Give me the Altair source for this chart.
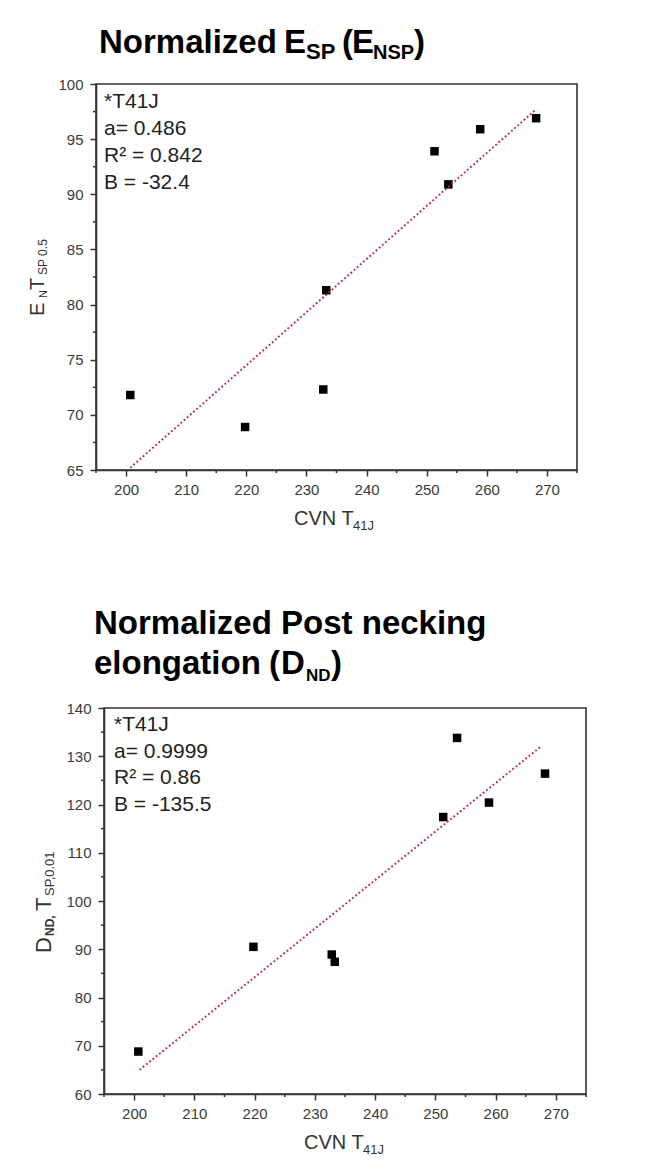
import altair as alt
import pandas as pd

# ---------------- data ----------------
cvn_t41j = [200.7, 219.8, 232.8, 233.3, 251.3, 253.6, 258.9, 268.2]
ensp_t05 = [71.8, 68.9, 72.3, 81.3, 93.9, 90.9, 95.9, 96.9]
dnd_t001 = [68.8, 90.5, 88.9, 87.4, 117.4, 133.8, 120.4, 126.4]

fit_top_x = [200.7, 268.2]
fit_top_y = [65.2, 97.7]
fit_bot_x = [200.9, 267.6]
fit_bot_y = [65.0, 132.1]

x_major = [200, 210, 220, 230, 240, 250, 260, 270]
x_minor = [195, 205, 215, 225, 235, 245, 255, 265, 275]
y_top_major = [65, 70, 75, 80, 85, 90, 95, 100]
y_top_minor = [67.5, 72.5, 77.5, 82.5, 87.5, 92.5, 97.5]
y_bot_major = [60, 70, 80, 90, 100, 110, 120, 130, 140]
y_bot_minor = [65, 75, 85, 95, 105, 115, 125, 135]

annot_top = ["*T41J", "a= 0.486", "R\u00b2 = 0.842", "B = -32.4"]
annot_bot = ["*T41J", "a= 0.9999", "R\u00b2 = 0.86", "B = -135.5"]

FONT = "Liberation Sans"
AX = "#333333"
W_TOP, W_BOT, H = 481, 482, 386


def txt(text, x, y, size, weight="normal", angle=0, color="#000000", line_height=None):
    kw = dict(x=x, y=y, fontSize=size, fontWeight=weight, align="left",
              baseline="alphabetic", color=color, font=FONT)
    if angle:
        kw["angle"] = angle
    if line_height:
        kw["lineHeight"] = line_height
    return alt.Chart(alt.Data(values=[{}])).mark_text(**kw).encode(text=alt.value(text))


def panel(yvals, fx, fy, ydomain, ymajor, yminor, annot, ann_x, ann_y, ann_lh, extra):
    xs = alt.Scale(domain=[195, 275], nice=False, zero=False)
    ys = alt.Scale(domain=ydomain, nice=False, zero=False)
    xa = alt.Axis(values=x_major, title=None, grid=False, labelOverlap=False, labelFlush=False,
                  tickSize=6, labelPadding=6)
    ya = alt.Axis(values=ymajor, title=None, grid=False, labelOverlap=False, labelFlush=False,
                  tickSize=6, labelPadding=7)
    df = pd.DataFrame({"cvn": cvn_t41j, "v": yvals})
    fdf = pd.DataFrame({"cvn": fx, "v": fy})
    pts = alt.Chart(df).mark_square(size=72, color="black", opacity=1).encode(
        x=alt.X("cvn:Q", scale=xs, axis=xa),
        y=alt.Y("v:Q", scale=ys, axis=ya),
    )
    fit = alt.Chart(fdf).mark_line(color="#b8283c", strokeDash=[1.8, 2.4], strokeWidth=1.9).encode(
        x=alt.X("cvn:Q"), y=alt.Y("v:Q")
    )
    xminor = alt.Chart(pd.DataFrame({"cvn": x_minor})).mark_rule(color=AX, strokeWidth=1.5).encode(
        x=alt.X("cvn:Q"), y=alt.value(H), y2=alt.value(H + 3)
    )
    yminor_r = alt.Chart(pd.DataFrame({"v": yminor})).mark_rule(color=AX, strokeWidth=1.5).encode(
        y=alt.Y("v:Q"), x=alt.value(0), x2=alt.value(-3)
    )
    ann = txt(annot, ann_x, ann_y, 21, color="#222222", line_height=ann_lh)
    return [pts, fit, xminor, yminor_r, ann] + extra


# anchor fixes the top-left of the whole picture (page x=8,y=8)
anchor = alt.Chart(alt.Data(values=[{}])).mark_rule(strokeOpacity=0, strokeWidth=1).encode(
    x=alt.value(-87), x2=alt.value(-86), y=alt.value(-75), y2=alt.value(-75)
)

top_extra = [
    anchor,
    txt("Normalized", 3, -31, 33, "bold"),
    txt("E", 188, -31, 33, "bold"),
    txt("SP", 210, -25, 22, "bold"),
    txt("(", 246, -31, 33, "bold"),
    txt("E", 256, -31, 33, "bold"),
    txt("NSP", 277, -25, 20, "bold"),
    txt(")", 318, -31, 33, "bold"),
    txt("E", -52, 232, 20, angle=270, color=AX),
    txt("N", -49, 214, 11, angle=270, color=AX),
    txt("T", -52, 206, 20, angle=270, color=AX),
    txt("SP 0.5", -49, 191, 12, angle=270, color=AX),
    txt("CVN T", 198, 441, 20, color=AX),
    txt("41J", 257, 446, 13, color=AX),
]

bot_extra = [
    txt("Normalized Post necking", -10, -74, 33, "bold"),
    txt("elongation", -10, -34, 33, "bold"),
    txt("(", 165, -34, 33, "bold"),
    txt("D", 177, -34, 33, "bold"),
    txt("ND", 202, -27, 17, "bold"),
    txt(")", 227, -34, 33, "bold"),
    txt("D", -53, 245, 22, angle=270, color=AX),
    txt("ND,", -50, 228, 12, "bold", angle=270, color=AX),
    txt("T", -53, 203, 22, angle=270, color=AX),
    txt("SP,0.01", -50, 188, 13, angle=270, color=AX),
    txt("CVN T", 200, 441, 20, color=AX),
    txt("41J", 259, 446, 13, color=AX),
]

top = alt.layer(*panel(ensp_t05, fit_top_x, fit_top_y, [65, 100], y_top_major, y_top_minor,
                       annot_top, 8, 24, 27, top_extra)).properties(width=W_TOP, height=H)
bottom = alt.layer(*panel(dnd_t001, fit_bot_x, fit_bot_y, [60, 140], y_bot_major, y_bot_minor,
                          annot_bot, 10, 23, 26.7, bot_extra)).properties(width=W_BOT, height=H)

spacer = alt.Chart(alt.Data(values=[{}])).mark_point(opacity=0).encode(
    x=alt.value(0), y=alt.value(0)
).properties(width=8, height=H, view=alt.ViewBackground(stroke="transparent"))

chart = alt.vconcat(
    top,
    alt.hconcat(spacer, bottom, spacing=0, bounds="flush"),
    spacing=238,
    bounds="flush",
).properties(padding=0, background="white").configure_view(
    stroke=AX, strokeWidth=1.6
).configure_axis(
    domainColor=AX, domainWidth=1.6, tickColor=AX, tickWidth=1.5,
    labelFont=FONT, labelFontSize=15, labelColor="#3a3a3a",
)

chart.save("out.html", embed_options={"renderer": "svg", "actions": False})
